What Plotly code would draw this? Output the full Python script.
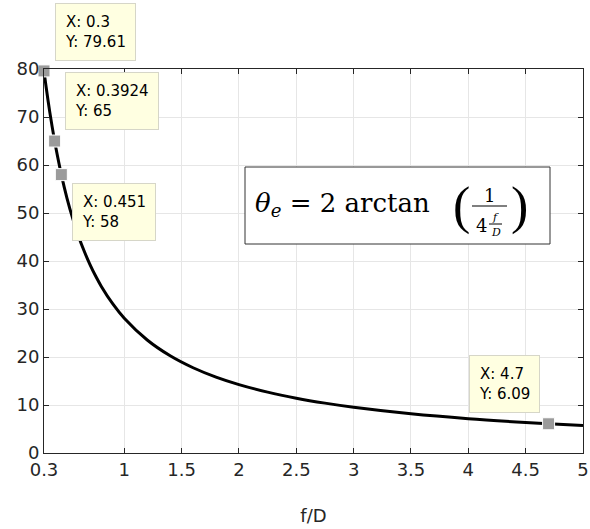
import plotly.graph_objects as go

# curve values (f/D vs theta_e in degrees)
fd = [0.3, 0.32, 0.35, 0.3924, 0.4, 0.451, 0.5, 0.55, 0.6, 0.65, 0.7, 0.75, 0.8, 0.9,
      1.0, 1.2, 1.4, 1.6, 1.8, 2.0, 2.25, 2.5, 2.75, 3.0, 3.5, 4.0, 4.5, 4.7, 5.0]
theta = [79.61, 76.0, 71.08, 65.0, 64.01, 58.0, 53.13, 48.9, 45.24, 42.08, 39.31, 36.87, 34.71, 31.05,
         28.07, 23.54, 20.25, 17.76, 15.81, 14.25, 12.68, 11.42, 10.39, 9.53, 8.17, 7.15, 6.36, 6.09, 5.72]

# data tips
tip_x = [0.3, 0.3924, 0.451, 4.7]
tip_y = [79.61, 65, 58, 6.09]
tip_labels = ["X: 0.3<br>Y: 79.61", "X: 0.3924<br>Y: 65", "X: 0.451<br>Y: 58", "X: 4.7<br>Y: 6.09"]
tip_box_px = [(55, 3), (65, 72), (72, 183), (469, 355)]

x_ticks = [0.3, 1, 1.5, 2, 2.5, 3, 3.5, 4, 4.5, 5]
x_ticktext = ["0.3", "1", "1.5", "2", "2.5", "3", "3.5", "4", "4.5", "5"]

W, H = 590, 529
L, R, T, B = 44, 7, 69, 76
pw, ph = W - L - R, H - T - B


def px(x):
    return (x - L) / pw


def py(y):
    return (H - B - y) / ph


fig = go.Figure()
fig.add_trace(go.Scatter(x=fd, y=theta, mode="lines", line=dict(color="black", width=3, shape="spline"),
                         hoverinfo="skip"))
fig.add_trace(go.Scatter(x=tip_x, y=tip_y, mode="markers",
                         marker=dict(symbol="square", size=12, color="#9b9b9b", line=dict(color="white", width=1)),
                         hoverinfo="skip", cliponaxis=False))

for lab, (bx, by) in zip(tip_labels, tip_box_px):
    fig.add_annotation(xref="paper", yref="paper", x=px(bx), y=py(by), xanchor="left", yanchor="top",
                       text=lab, showarrow=False, align="left",
                       font=dict(family="DejaVu Sans", size=15, color="black"),
                       bgcolor="#ffffe1", bordercolor="#d6d6c8", borderwidth=1, borderpad=9)

# formula box
fig.add_shape(type="rect", xref="paper", yref="paper", x0=px(245), x1=px(550), y0=py(167), y1=py(244),
              line=dict(color="#333333", width=1), fillcolor="white")
serif = "DejaVu Serif, Liberation Serif, serif"
thin = "Liberation Serif, serif"
fig.add_annotation(xref="paper", yref="paper", x=px(253), y=py(204), xanchor="left", yanchor="middle",
                   text="<i>θ</i><sub><i>e</i></sub> = 2 arctan", showarrow=False,
                   font=dict(family=serif, size=26, color="black"))
fig.add_annotation(xref="paper", yref="paper", x=px(461), y=py(206), xanchor="center", yanchor="middle",
                   text="(", showarrow=False, font=dict(family=thin, size=52, color="black"))
fig.add_annotation(xref="paper", yref="paper", x=px(519), y=py(206), xanchor="center", yanchor="middle",
                   text=")", showarrow=False, font=dict(family=thin, size=52, color="black"))
fig.add_annotation(xref="paper", yref="paper", x=px(489), y=py(195), xanchor="center", yanchor="middle",
                   text="1", showarrow=False, font=dict(family=serif, size=18, color="black"))
fig.add_shape(type="line", xref="paper", yref="paper", x0=px(472), x1=px(507), y0=py(206), y1=py(206),
              line=dict(color="black", width=1.2))
fig.add_annotation(xref="paper", yref="paper", x=px(481), y=py(225), xanchor="center", yanchor="middle",
                   text="4", showarrow=False, font=dict(family=serif, size=18, color="black"))
fig.add_annotation(xref="paper", yref="paper", x=px(495), y=py(217), xanchor="center", yanchor="middle",
                   text="<i>f</i>", showarrow=False, font=dict(family=serif, size=11, color="black"))
fig.add_shape(type="line", xref="paper", yref="paper", x0=px(489), x1=px(502), y0=py(224), y1=py(224),
              line=dict(color="black", width=1))
fig.add_annotation(xref="paper", yref="paper", x=px(496), y=py(232), xanchor="center", yanchor="middle",
                   text="<i>D</i>", showarrow=False, font=dict(family=serif, size=11, color="black"))

tickfont = dict(family="DejaVu Sans", size=18, color="#262626")
axis_style = dict(showline=True, linecolor="#262626", linewidth=1, mirror="ticks", ticks="inside",
                  ticklen=5, tickcolor="#262626", showgrid=True, gridcolor="#e6e6e6", gridwidth=1,
                  zeroline=False, tickfont=tickfont, ticklabeloverflow="allow", automargin=False)

fig.update_layout(
    width=W, height=H, margin=dict(l=L, r=R, t=T, b=B),
    paper_bgcolor="white", plot_bgcolor="white", showlegend=False,
    xaxis=dict(range=[0.2999, 5.0001], tickvals=x_ticks, ticktext=x_ticktext,
               title=dict(text="f/D", font=tickfont, standoff=30), **axis_style),
    yaxis=dict(range=[0, 80.01], tickvals=list(range(0, 90, 10)), **axis_style),
)

# drop the default page margin and scrollbars so the figure sits at the window's corner
fig.write_html("out.html", config={"displayModeBar": False, "responsive": False},
               post_script="document.body.style.margin='0';document.body.style.overflow='hidden';")
